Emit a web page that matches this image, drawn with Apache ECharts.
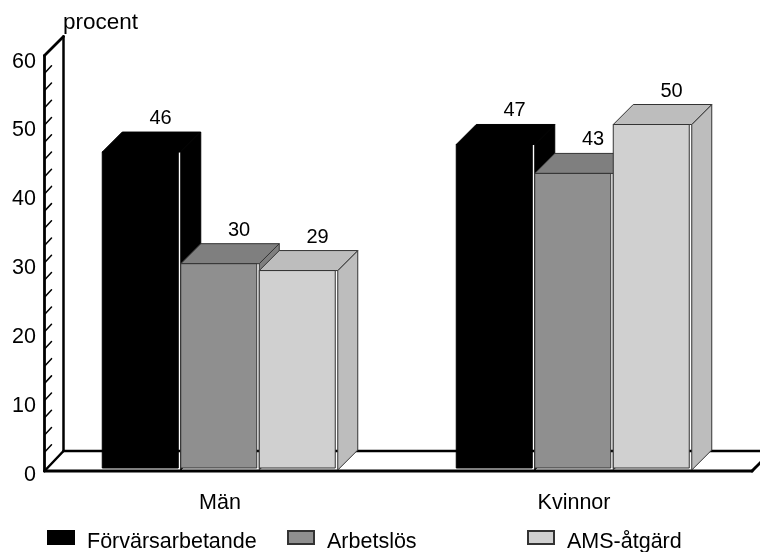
<!DOCTYPE html>
<html><head><meta charset="utf-8">
<style>html,body{margin:0;padding:0;background:#fff}#c{width:760px;height:552px}</style>
<script src="https://cdn.jsdelivr.net/npm/echarts@6/dist/echarts.min.js"></script></head>
<body><div id="c"></div>
<script>
var categories = ['Män', 'Kvinnor'];
var förvärsarbetande = [46, 47.1];
var arbetslös = [29.8, 42.9];
var amsÅtgärd = [28.8, 50];
var seriesNames = ['Förvärsarbetande', 'Arbetslös', 'AMS-åtgärd'];
var yTicks = [0, 10, 20, 30, 40, 50, 60];
var wallMarks = [2.5,5,7.5,10,12.5,15,17.5,20,22.5,25,27.5,30,32.5,35,37.5,40,42.5,45,47.5,50,52.5,55,57.5];

var FONT = '"Liberation Sans", Arial, sans-serif';
var DEPTH = 20, PITCH = 78.5;
var faces = [
  {front:'#000000', top:'#000000', side:'#000000', stroke:'#000000'},
  {front:'#8f8f8f', top:'#7f7f7f', side:'#7f7f7f', stroke:'#333333'},
  {front:'#d0d0d0', top:'#bdbdbd', side:'#bdbdbd', stroke:'#333333'}
];

function barRenderer(idx){
  var f = faces[idx];
  return function(params, api){
    var top = api.coord([api.value(0), api.value(1)]);
    var base = api.coord([api.value(0), 0]);
    var x0 = top[0] + (idx - 1.5) * PITCH, x1 = x0 + PITCH - 2.5, xs = x0 + PITCH;
    var yt = top[1], yb = base[1];
    function poly(pts, fill){
      return {type:'polygon', shape:{points:pts}, style:{fill:fill, stroke:f.stroke, lineWidth:1}};
    }
    return {type:'group', children:[
      poly([[xs,yt],[xs+DEPTH,yt-DEPTH],[xs+DEPTH,yb-DEPTH+1],[xs,yb+1]], f.side),
      poly([[x0,yt],[x0+DEPTH,yt-DEPTH],[xs+DEPTH,yt-DEPTH],[xs,yt]], f.top),
      {type:'rect', shape:{x:x0,y:yt,width:x1-x0,height:yb-yt-1}, style:{fill:f.front, stroke:f.stroke, lineWidth:1}},
      {type:'text', z2:5, style:{text:String(Math.round(api.value(1))), x:x0+PITCH/2+DEPTH-1, y:yt-DEPTH-13.5,
        align:'center', verticalAlign:'middle', fill:'#000', font:'20px '+FONT}}
    ]};
  };
}

function frameRenderer(params, api){
  var p0 = api.coord([0, 0]), p60 = api.coord([0, 60]);
  var band = api.size([1, 0])[0];
  var xL = p0[0] - band / 2 + 1.5, yB = p0[1] + 2, yT = p60[1];
  var xR = p0[0] + band * 1.5 + 1;
  function line(a,b,c,d,w){ return {type:'line', shape:{x1:a,y1:b,x2:c,y2:d}, style:{stroke:'#000', lineWidth:w, lineCap:'round'}}; }
  var kids = [
    line(xL, yT, xL, yB, 2.8),
    line(xL+DEPTH-1, yT-DEPTH+1, xL+DEPTH-1, yB-DEPTH, 2.5),
    line(xL, yT, xL+DEPTH-1, yT-DEPTH+1, 2.8),
    line(xL, yB, xL+DEPTH-1, yB-DEPTH, 2.5),
    line(xL, yB, xR, yB, 3),
    line(xL+DEPTH-1, yB-DEPTH, 770, yB-DEPTH, 2.5),
    line(xR, yB, xR+DEPTH, yB-DEPTH, 3)
  ];
  wallMarks.forEach(function(v){
    var y = api.coord([0, v])[1];
    kids.push(line(xL+0.5, y, xL+7, y-7, 1.5));
  });
  return {type:'group', children:kids};
}

function toData(values){ return categories.map(function(c,i){ return [c, values[i]]; }); }
var all = [förvärsarbetande, arbetslös, amsÅtgärd];

var series = [{
  type:'custom', name:'frame', z:1, silent:true, renderItem:frameRenderer, data:[[categories[0],0]], encode:{x:0,y:1}
}];
all.forEach(function(vals,i){
  series.push({
    type:'custom', name:seriesNames[i], z:2+i, silent:true, renderItem:barRenderer(i), data:toData(vals), encode:{x:0,y:1},
    itemStyle:{color:faces[i].front, borderColor:faces[i].stroke, borderWidth:1}
  });
});

function legendFor(i, left){
  return {show:true, left:left, top:521.5, padding:0, data:[seriesNames[i]], icon:'rect', itemWidth:26, itemHeight:13, selectedMode:false,
    formatter:'\n{name}',
    textStyle:{fontFamily:FONT, fontSize:21.5, color:'#000', lineHeight:10, padding:[0,0,0,8]}};
}

var chart = echarts.init(document.getElementById('c'), null, {renderer:'canvas'});
chart.setOption({
  animation:false,
  backgroundColor:'#fff',
  grid:{left:43, width:708, top:55.6, height:413.4, containLabel:false},
  legend:[legendFor(0,47), legendFor(1,287), legendFor(2,527)],
  xAxis:{type:'category', data:categories, axisLine:{show:false}, axisTick:{show:false}, splitLine:{show:false},
    axisLabel:{fontFamily:FONT, fontSize:21.5, color:'#000', margin:23}},
  yAxis:{type:'value', min:yTicks[0], max:yTicks[yTicks.length-1], interval:10,
    axisLine:{show:false}, axisTick:{show:false}, splitLine:{show:false},
    name:'procent', nameLocation:'end', nameGap:21,
    nameTextStyle:{fontFamily:FONT, fontSize:22.5, color:'#000', align:'left', padding:[0,0,0,20]},
    axisLabel:{fontFamily:FONT, fontSize:21.5, color:'#000', margin:7, verticalAlign:'top', lineHeight:12}},
  series:series
});
</script></body></html>
